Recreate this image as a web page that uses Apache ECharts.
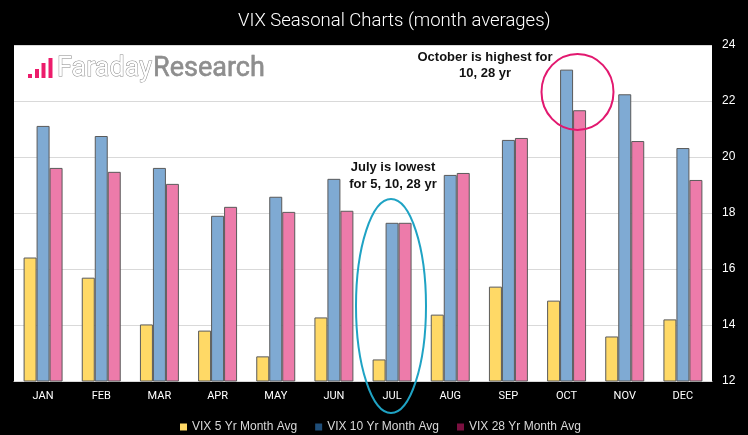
<!DOCTYPE html>
<html>
<head>
<meta charset="utf-8">
<script src="https://cdn.jsdelivr.net/npm/echarts@6/dist/echarts.min.js"></script>
<style>
html,body{margin:0;padding:0;background:#000;}
#chart{width:748px;height:435px;}
</style>
</head>
<body>
<div id="chart"></div>
<script>
var months = ['JAN','FEB','MAR','APR','MAY','JUN','JUL','AUG','SEP','OCT','NOV','DEC'];
var seriesNames = ['VIX 5 Yr Month Avg','VIX 10 Yr Month Avg','VIX 28 Yr Month Avg'];
var vix5  = [16.41,15.69,14.02,13.80,12.88,14.27,12.77,14.37,15.37,14.87,13.59,14.20];
var vix10 = [21.11,20.75,19.61,17.90,18.58,19.22,17.65,19.36,20.61,23.12,22.24,20.32];
var vix28 = [19.61,19.47,19.04,18.22,18.04,18.08,17.65,19.43,20.68,21.67,20.57,19.18];
var yTicks = [12,14,16,18,20,22,24];

var barColors = ['#FFD966','#7FAAD3','#ED7BAA'];
var legendColors = ['#FFD966','#1F4E79','#7B1040'];

var chart = echarts.init(document.getElementById('chart'), null, {renderer:'canvas'});

function mkSeries(name, data, color){
  return {
    name: name, type: 'bar', data: data,
    barGap: '0%', barCategoryGap: '33%',
    itemStyle: {color: color, borderColor: '#5a5a5a', borderWidth: 1},
    emphasis: {disabled: true},
    animation: false
  };
}

var option = {
  backgroundColor: '#000',
  animation: false,
  title: {
    text: 'VIX Seasonal Charts (month averages)',
    left: 233, top: 7,
    textStyle: {color: '#fff', fontFamily: 'Roboto', fontWeight: 300, fontSize: 18.5}
  },
  grid: {
    left: 14, right: 36, top: 45, bottom: 54,
    show: true, backgroundColor: '#fff', borderWidth: 0
  },
  legend: {
    top: 416, left: 175,
    icon: 'rect', itemWidth: 7, itemHeight: 7, itemGap: 18,
    textStyle: {color: '#d9d9d9', fontSize: 12, fontFamily: 'Liberation Sans'},
    data: seriesNames.map(function(n, i){
      return {name: n, itemStyle: {color: legendColors[i], borderWidth: 0}};
    })
  },
  xAxis: {
    type: 'category', data: months,
    axisLine: {show: true, lineStyle: {color: '#d9d9d9'}},
    axisTick: {show: false},
    axisLabel: {color: '#fff', fontSize: 11, margin: 10, fontFamily: 'Roboto'}
  },
  yAxis: {
    type: 'value', position: 'right', min: yTicks[0], max: yTicks[yTicks.length-1], interval: 2,
    axisLine: {show: false}, axisTick: {show: false},
    splitLine: {lineStyle: {color: '#d9d9d9', width: 1}},
    axisLabel: {color: '#fff', fontSize: 12, margin: 10, fontFamily: 'Liberation Sans'}
  },
  series: [
    mkSeries(seriesNames[0], vix5, barColors[0]),
    mkSeries(seriesNames[1], vix10, barColors[1]),
    mkSeries(seriesNames[2], vix28, barColors[2])
  ],
  graphic: [
    {type:'rect', shape:{x:28, y:74, width:4, height:4}, style:{fill:'#EC1C6B'}, z:10},
    {type:'rect', shape:{x:35, y:69, width:4, height:9}, style:{fill:'#EC1C6B'}, z:10},
    {type:'rect', shape:{x:41.5, y:63, width:4, height:15}, style:{fill:'#EC1C6B'}, z:10},
    {type:'rect', shape:{x:48.5, y:58, width:4, height:20}, style:{fill:'#EC1C6B'}, z:10},
    {type:'text', x:57, y:56, z:10, style:{text:'Faraday', fill:'#fff', stroke:'#8a8a8a', lineWidth:1, font:'27px Roboto'}},
    {type:'text', x:153, y:56, z:10, style:{text:'Research', fill:'#8e8e8e', stroke:'#7a7a7a', lineWidth:0.5, font:'27px Roboto'}},
    {type:'text', x:485, y:49, z:10, style:{text:'October is highest for\n10, 28 yr', fill:'#111', font:'bold 13px "Liberation Sans"', textAlign:'center', lineHeight:16}},
    {type:'text', x:393, y:159, z:10, style:{text:'July is lowest\nfor 5, 10, 28 yr', fill:'#111', font:'bold 13px "Liberation Sans"', textAlign:'center', lineHeight:17}},
    {type:'ellipse', shape:{cx:391, cy:306, rx:35, ry:107}, style:{fill:'none', stroke:'#1FA3C4', lineWidth:2}, z:20},
    {type:'ellipse', shape:{cx:577.5, cy:92, rx:36, ry:38}, style:{fill:'none', stroke:'#E2186F', lineWidth:2}, z:20}
  ]
};
chart.setOption(option);
</script>
</body>
</html>
